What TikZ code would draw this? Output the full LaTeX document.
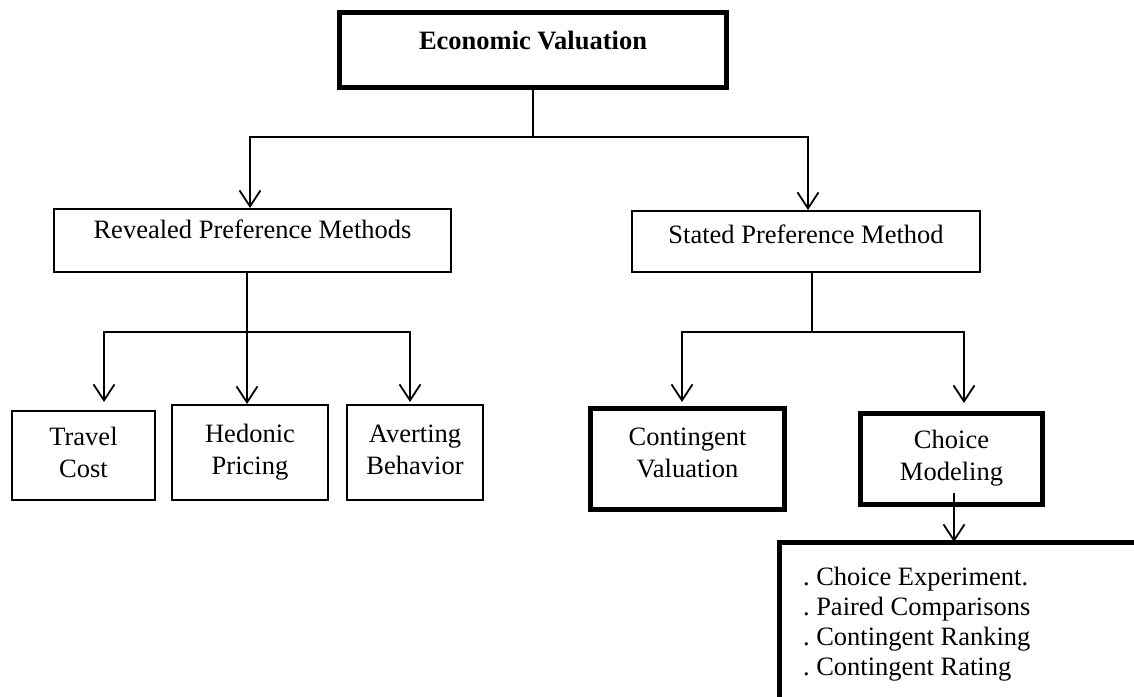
\documentclass[tikz,border=0pt]{standalone}
\usepackage{fontspec}
\setmainfont{Liberation Serif}
\usetikzlibrary{arrows.meta}
\frenchspacing
\tikzset{
  boxbase/.style={draw, inner sep=0pt, anchor=base, align=flush center,
    font=\fontsize{26.5}{32}\selectfont},
  thinbox/.style={boxbase, line width=1.7pt},
  thickbox/.style={boxbase, line width=5pt},
  conn/.style={line width=1.8pt},
  arr/.style={conn, -{Straight Barb[length=16pt,width=21pt]}},
}
\begin{document}
\begin{tikzpicture}[x=1pt,y=-1pt]
\useasboundingbox[fill=white] (0,0) rectangle (1134,696);

% boxes
\node[thickbox, text width=387pt, text height=36.5pt, text depth=38.5pt,
      font=\bfseries\fontsize{26.5}{32}\selectfont] (title) at (533,49) {Economic Valuation};
\node[thinbox, text width=397.3pt, text height=29.15pt, text depth=34.15pt] (rev) at (252.5,238) {Revealed Preference Methods};
\node[thinbox, text width=348.3pt, text height=32.15pt, text depth=29.15pt] (stated) at (806,243) {Stated Preference Method};
\node[thinbox, text width=143.3pt, text height=34.15pt, text depth=55.15pt] (travel) at (83.5,445) {Travel\\Cost};
\node[thinbox, text width=156.3pt, text height=37.15pt, text depth=58.15pt] (hedonic) at (250,442) {Hedonic\\Pricing};
\node[thinbox, text width=136.3pt, text height=37.15pt, text depth=58.15pt] (averting) at (415,442) {Averting\\Behavior};
\node[thickbox, text width=194pt, text height=36.5pt, text depth=64.5pt] (contingent) at (687.5,445) {Contingent\\Valuation};
\node[thickbox, text width=182pt, text height=34.5pt, text depth=56.5pt] (choice) at (951.5,448) {Choice\\Modeling};
\node[thickbox, align=flush left, inner xsep=23.5pt, inner ysep=0pt, text width=321pt,
      text height=42.5pt, text depth=122.5pt, font=\fontsize{26.5}{30}\selectfont] (list) at (963.5,585)
  {. Choice Experiment.\\. Paired Comparisons\\. Contingent Ranking\\. Contingent Rating};

% connectors
\coordinate (tb) at (533,137);
\draw[conn] (title.south) -- (tb);
\draw[arr] (tb) -| ([xshift=-2.5pt]rev.north);
\draw[arr] (tb) -| ([xshift=2pt]stated.north);

\coordinate (rb) at (247,332);
\draw[conn] (rev.south -| rb) -- (rb);
\draw[arr] (rb) -| ([xshift=20.5pt,yshift=8pt]travel.north);
\draw[arr] (rb) -- (rb |- hedonic.north);
\draw[arr] (rb) -| ([xshift=-5pt,yshift=2pt]averting.north);

\coordinate (sb) at (812,332);
\draw[conn] (stated.south -| sb) -- (sb);
\draw[arr] (sb) -| ([xshift=-5.5pt,yshift=4pt]contingent.north);
\draw[arr] (sb) -| ([xshift=12.5pt,yshift=8pt]choice.north);

\coordinate (cm) at (954,493);
\draw[arr] (cm) -- ([yshift=-2pt]cm |- list.north);
\end{tikzpicture}
\end{document}
